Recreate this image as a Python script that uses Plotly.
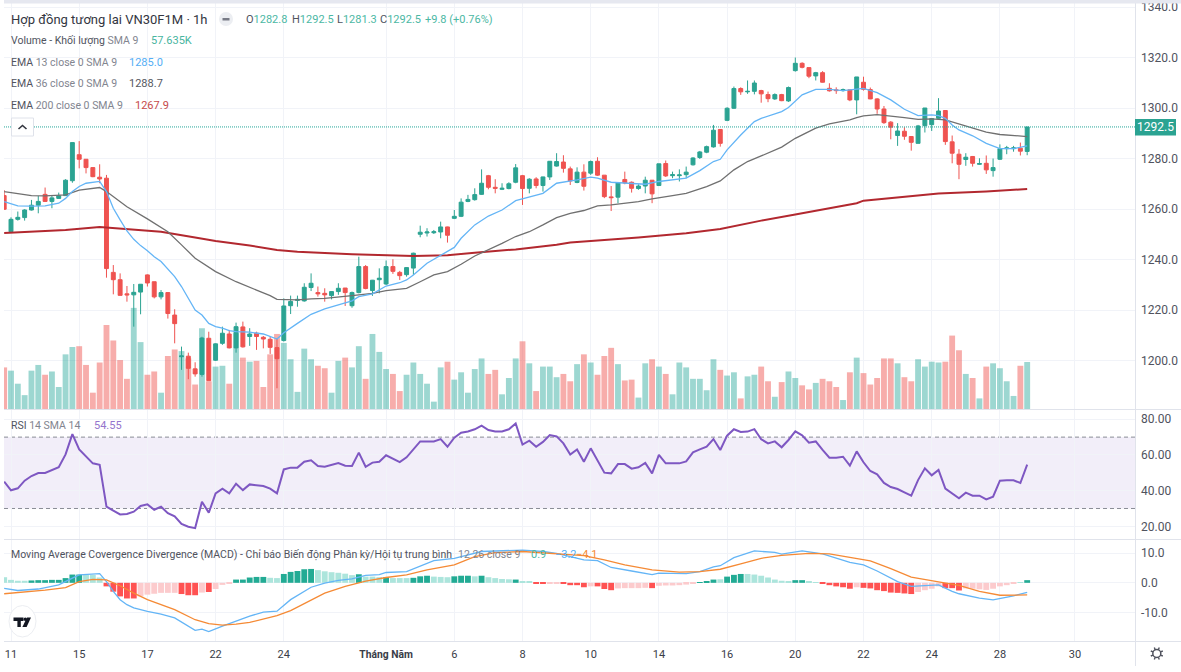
import math
import plotly.graph_objects as go

W, H = 1181, 672
bar_index = list(range(-1, 150))

open_ = [1265.3,
1251.0,1255.9,1256.6,1259.6,1261.5,1265.8,1263.0,1264.2,1265.3,1271.2,
1281.5,1279.7,1276.4,1272.6,1272.2,1234.9,1232.0,1226.4,1226.0,1227.1,
1233.9,1231.2,1225.2,1226.9,1218.0,1201.5,1201.7,1196.7,1194.5,1208.8,
1200.1,1206.8,1210.5,1205.0,1213.3,1209.5,1210.8,1209.2,1208.4,1205.1,
1207.9,1221.7,1223.8,1223.6,1228.9,1226.9,1226.6,1225.7,1227.3,1228.7,
1221.7,1226.9,1237.2,1227.7,1232.0,1230.3,1237.2,1234.9,1234.0,1236.6,
1250.0,1250.5,1250.6,1250.9,1252.9,1256.3,1257.1,1263.0,1263.7,1265.8,
1273.2,1268.6,1267.8,1268.1,1270.6,1273.2,1268.2,1271.9,1269.3,1272.7,
1277.0,1278.6,1275.9,1270.5,1274.6,1274.2,1278.9,1273.4,1264.8,1264.7,
1271.7,1270.6,1268.1,1269.1,1271.4,1269.3,1278.0,1273.2,1273.2,1273.6,
1277.5,1280.4,1282.5,1284.6,1291.5,1295.1,1299.9,1307.7,1306.4,1306.6,
1306.9,1305.3,1303.6,1305.3,1302.8,1314.8,1317.7,1316.0,1312.7,1314.0,
1307.8,1307.2,1306.9,1307.2,1303.2,1310.2,1307.3,1303.6,1299.6,1294.4,
1289.1,1290.8,1288.7,1286.0,1293.0,1293.4,1295.9,1299.0,1286.6,1281.7,
1279.6,1280.8,1277.7,1278.1,1275.2,1279.7,1283.9,1283.9,1284.1,1282.8]

high = [1267.5,
1256.7,1259.0,1259.9,1263.6,1265.2,1268.5,1265.2,1266.5,1271.8,1286.3,
1286.9,1279.7,1276.4,1277.7,1273.5,1237.8,1234.5,1229.5,1230.3,1230.2,
1234.1,1231.2,1227.9,1227.1,1220.3,1205.5,1203.1,1199.3,1209.4,1211.4,
1206.8,1213.4,1212.1,1215.0,1215.4,1212.8,1211.4,1209.7,1209.5,1208.8,
1224.6,1225.7,1225.7,1230.6,1234.5,1229.3,1228.6,1227.5,1230.6,1228.7,
1227.3,1241.1,1237.8,1231.9,1236.5,1239.6,1240.1,1235.5,1236.9,1242.7,
1253.4,1252.4,1251.7,1255.0,1253.0,1259.6,1264.2,1265.6,1268.2,1275.7,
1273.5,1271.8,1270.2,1270.6,1277.8,1273.5,1272.2,1272.6,1272.8,1279.0,
1282.1,1281.3,1276.8,1276.5,1277.7,1279.2,1280.5,1273.4,1269.1,1270.5,
1274.8,1270.9,1269.8,1272.8,1271.5,1277.9,1279.2,1274.8,1275.7,1276.8,
1280.5,1283.0,1285.1,1293.3,1291.6,1300.3,1308.5,1308.2,1310.9,1310.9,
1307.2,1306.5,1305.8,1305.6,1308.5,1320.0,1318.1,1316.0,1314.3,1314.6,
1309.8,1308.2,1307.7,1307.3,1312.3,1312.4,1308.1,1303.9,1300.8,1294.8,
1294.0,1292.4,1288.9,1293.3,1300.0,1295.9,1303.9,1299.2,1289.1,1283.7,
1282.1,1281.0,1280.1,1281.2,1280.0,1285.6,1285.0,1285.0,1286.3,1292.5]

low = [1259.6,
1251.0,1255.4,1255.4,1259.4,1258.3,1262.8,1260.3,1264.1,1265.2,1270.4,
1276.1,1274.1,1272.6,1270.2,1232.8,1226.2,1225.8,1223.3,1213.4,1218.3,
1229.3,1224.6,1224.2,1216.6,1206.8,1196.3,1192.6,1193.6,1193.6,1192.0,
1199.8,1206.2,1204.8,1203.1,1205.1,1205.8,1204.2,1204.8,1202.6,1189.0,
1207.5,1218.4,1221.3,1223.3,1227.5,1225.3,1223.3,1224.2,1226.0,1221.6,
1220.9,1226.6,1228.2,1225.6,1226.6,1229.9,1234.3,1231.9,1233.2,1233.9,
1248.8,1249.1,1250.1,1248.4,1246.7,1256.0,1256.8,1262.7,1263.3,1265.6,
1267.8,1266.2,1267.5,1267.8,1270.2,1261.6,1266.2,1268.2,1266.9,1271.5,
1276.8,1274.4,1269.5,1270.2,1267.3,1273.5,1273.1,1264.3,1259.2,1262.3,
1269.8,1266.5,1267.6,1266.2,1262.3,1269.1,1272.7,1272.2,1270.9,1272.2,
1277.2,1279.8,1282.1,1284.3,1284.7,1294.8,1299.6,1305.2,1305.6,1305.4,
1302.1,1302.3,1303.2,1302.7,1302.4,1314.4,1315.7,1311.8,1310.9,1310.1,
1306.5,1305.6,1306.5,1302.7,1297.5,1306.9,1303.5,1297.7,1293.7,1287.6,
1285.0,1287.4,1283.1,1286.0,1290.3,1290.9,1295.7,1285.4,1278.1,1271.8,
1277.1,1276.8,1277.5,1273.9,1272.8,1279.4,1281.7,1282.7,1281.2,1281.3]

close = [1259.9,
1255.9,1256.7,1259.6,1261.5,1263.0,1263.0,1264.4,1265.2,1271.4,1286.3,
1279.7,1276.4,1272.8,1271.9,1236.4,1232.0,1225.8,1226.0,1227.0,1230.2,
1230.7,1225.2,1226.9,1218.6,1214.6,1201.8,1196.9,1194.7,1208.9,1192.0,
1206.6,1210.8,1205.0,1213.4,1205.4,1210.5,1209.5,1208.5,1205.2,1200.7,
1221.6,1223.4,1224.2,1229.0,1230.6,1226.4,1226.0,1227.3,1228.6,1226.9,
1226.9,1237.2,1228.5,1231.8,1232.6,1237.2,1235.3,1233.6,1236.8,1242.5,
1250.8,1250.9,1251.0,1252.9,1249.6,1257.1,1262.7,1263.8,1265.7,1270.2,
1268.6,1268.2,1268.2,1270.0,1276.3,1268.1,1271.8,1269.3,1272.7,1278.9,
1278.8,1276.1,1271.1,1274.6,1269.0,1278.8,1273.4,1264.9,1264.5,1270.3,
1270.3,1268.2,1269.1,1271.4,1266.0,1277.9,1273.1,1273.6,1273.5,1274.6,
1280.2,1282.6,1284.7,1291.2,1286.0,1299.9,1307.7,1306.4,1306.6,1309.9,
1305.6,1303.7,1305.3,1302.9,1308.1,1317.7,1316.1,1312.6,1314.0,1310.2,
1306.8,1306.9,1307.3,1303.2,1312.3,1307.4,1303.6,1299.6,1294.2,1292.4,
1290.9,1288.8,1286.4,1292.9,1300.0,1295.8,1298.8,1286.7,1282.1,1277.7,
1280.5,1278.1,1278.0,1275.5,1276.4,1283.9,1284.2,1284.2,1282.9,1292.5]

volume_k = [51,
47,31,17,47,54,42,46,27,67,76,
77,54,20,57,103,84,60,37,124,82,
42,46,20,65,73,71,62,30,99,34,
52,53,31,93,63,58,59,27,67,92,
81,61,21,74,61,53,50,20,59,63,
51,77,37,92,70,49,43,22,42,57,
43,31,9,51,58,36,45,20,49,62,
43,48,18,38,62,83,56,22,52,52,
39,43,34,55,67,57,42,65,75,55,
35,36,14,56,61,52,43,18,57,51,
37,37,23,61,48,41,45,13,40,42,
52,34,15,33,46,38,29,24,32,37,
34,27,11,45,63,44,30,38,62,62,
56,39,34,61,52,58,57,58,90,72,
43,38,13,52,56,50,34,16,53,57.6]

ema13_i = [-1,1,3,5,7,8,9,10,11,12,13,14,15,16,17,18,19,20,21,22,23,24,25,26,27,28,29,30,31,32,33,35,37,39,40,42,44,46,48,50,51,53,55,57,58,59,61,63,65,66,68,70,72,74,76,78,80,81,82,83,85,86,88,90,93,95,98,99,101,103,104,105,107,109,110,112,113,114,116,118,120,122,125,127,129,131,133,135,136,137,138,139,141,143,145,147,149]
ema13 = [1262.9,1261.2,1261.1,1261.2,1262.3,1264.2,1266.9,1268.9,1270.2,1270.6,1270.9,1266.9,1260.3,1255.7,1251.3,1248.0,1245.5,1243.5,1241.1,1239.2,1236.3,1233.2,1229.3,1224.6,1220.0,1218.0,1214.7,1213.4,1212.8,1211.8,1211.4,1211.2,1210.5,1208.5,1211.0,1214.7,1218.3,1220.4,1222.0,1223.6,1225.3,1226.4,1229.5,1230.8,1231.9,1233.9,1238.5,1241.8,1244.8,1248.4,1253.7,1257.2,1259.6,1263.3,1264.9,1266.2,1270.2,1270.6,1271.1,1271.5,1272.6,1272.2,1270.6,1270.2,1269.8,1270.9,1271.8,1272.2,1275.2,1278.8,1279.7,1283.4,1289.3,1294.6,1295.9,1297.9,1298.6,1300.2,1305.2,1307.4,1307.4,1306.9,1307.8,1306.1,1303.2,1299.5,1297.0,1297.3,1297.0,1295.9,1293.3,1291.3,1289.0,1286.0,1283.9,1283.9,1285.0]

ema36_i = [-1,3,5,8,10,13,14,17,20,23,25,27,30,33,36,38,39,42,44,46,50,53,55,58,60,62,64,66,68,70,72,74,76,78,80,82,84,86,88,92,94,97,99,102,104,106,108,110,113,115,118,120,123,124,125,127,129,131,133,135,137,139,141,143,145,147,149]
ema36 = [1266.9,1265.3,1265.2,1265.6,1267.5,1268.5,1266.9,1260.9,1256.1,1251.0,1245.8,1240.5,1235.2,1231.2,1227.9,1225.7,1224.2,1224.0,1224.4,1224.6,1225.7,1226.6,1227.7,1228.6,1231.2,1233.9,1235.2,1238.1,1241.4,1243.8,1246.4,1249.1,1251.0,1253.7,1256.6,1258.3,1259.4,1261.2,1261.6,1262.9,1264.0,1265.3,1266.2,1268.9,1271.1,1275.5,1278.8,1281.0,1284.5,1288.0,1292.0,1293.7,1295.3,1296.2,1296.9,1297.4,1296.9,1296.2,1295.5,1295.7,1295.3,1293.6,1292.0,1290.4,1289.5,1289.1,1288.7]

ema200_i = [-1,8,13,14,22,27,30,35,39,42,50,59,64,68,74,80,82,92,99,104,110,115,120,124,125,130,136,143,149]
ema200 = [1250.5,1251.7,1252.9,1252.7,1251.0,1248.7,1247.3,1245.5,1243.8,1243.1,1242.1,1241.4,1241.7,1242.7,1244.0,1245.8,1246.7,1248.7,1250.4,1252.1,1255.4,1257.8,1260.3,1262.3,1263.3,1264.5,1266.1,1266.9,1267.9]

rsi = [45.0,
40.2,41.3,45.6,48.2,49.9,49.9,51.4,53.1,60.3,71.7,
63.1,59.0,55.3,54.5,31.0,28.8,26.7,26.9,28.2,31.4,
32.3,29.3,31.0,27.4,25.6,21.3,19.8,19.0,33.8,27.6,
38.5,41.1,38.5,43.9,40.3,43.5,43.0,42.6,41.1,38.5,
51.9,52.9,52.9,56.2,57.0,53.8,53.4,54.4,55.5,54.0,
53.8,61.3,53.4,55.7,56.2,59.8,57.9,56.0,58.7,63.1,
67.6,67.6,67.6,68.9,64.6,69.7,72.5,73.2,74.4,76.4,
74.0,73.1,73.2,74.4,77.7,65.8,68.0,64.6,67.3,71.2,
70.4,66.5,60.2,63.1,56.2,63.7,57.2,50.1,49.7,54.9,
54.9,52.3,53.1,55.5,49.7,60.0,55.3,55.3,55.3,56.4,
61.5,63.1,64.6,68.9,62.8,70.8,74.4,72.9,73.1,74.5,
68.8,66.5,67.6,64.3,68.4,73.2,71.0,66.9,67.6,62.8,
58.5,58.5,59.0,54.0,62.0,55.9,51.0,49.1,44.3,42.0,
40.9,39.0,37.2,45.9,52.5,48.6,51.6,41.1,38.5,35.7,
38.9,37.2,37.2,35.1,36.6,45.6,45.8,45.8,44.3,54.55]

hist = [1.9,
1.0,0.7,0.7,0.8,0.9,0.9,1.0,1.0,1.6,2.8,
2.8,2.7,2.7,1.8,-1.2,-3.0,-4.6,-5.3,-5.3,-4.6,
-4.0,-3.7,-3.4,-3.4,-3.4,-3.8,-4.2,-4.2,-3.3,-3.1,
-2.1,-0.7,-0.1,1.1,1.1,1.8,2.0,2.0,1.7,1.6,
3.0,3.7,4.0,4.6,4.7,4.3,3.9,3.6,3.4,3.1,
2.6,2.9,2.1,2.1,1.9,1.9,1.6,1.6,1.6,1.7,
2.2,2.4,2.1,2.0,1.9,2.2,2.4,2.4,2.2,2.4,
1.9,1.6,1.3,1.2,1.1,0.6,0.4,-0.2,-0.3,-0.1,
-0.1,-0.4,-0.8,-0.8,-1.5,-1.2,-1.2,-2.1,-2.5,-1.9,
-1.8,-1.8,-1.8,-1.7,-1.8,-1.0,-0.9,-0.9,-0.8,-0.6,
-0.1,0.2,0.6,1.1,1.2,2.1,2.7,3.0,3.0,2.8,
2.4,1.8,1.1,0.7,0.6,0.9,0.9,0.4,0.2,-0.2,
-0.8,-1.2,-1.5,-2.0,-1.5,-1.7,-1.9,-2.5,-2.8,-3.3,
-3.4,-3.6,-3.8,-3.1,-2.5,-2.0,-1.2,-1.8,-1.8,-2.6,
-1.9,-2.0,-2.2,-2.4,-2.0,-1.2,-0.8,-0.3,0.1,0.9]

# D rising above zero, L falling above zero, P rising below zero, R falling below zero
hist_kind = list("L"
"LLLDDDDDDD"
"DLLLRRRRRP"
"PPPPPRRRPR"
"PPPDDDDDLL"
"DDDDDLLLLL"
"LDLLLDLLLD"
"DDLLLDDDLD"
"LLLLDLLRRP"
"PRRRRPRRRP"
"PPPPRPPPPP"
"PDDDLDDDLL"
"LLLLLDDLLR"
"RRRRPRRRRR"
"RRRPPPPRRR"
"PPPPPPPPLD")

macd_i = [-1,1,4,7,9,10,13,14,15,16,17,18,20,22,24,26,27,28,29,31,33,35,37,39,41,43,44,46,48,50,52,54,55,58,60,62,65,69,75,78,80,84,86,88,91,94,95,99,101,103,104,106,109,112,113,116,119,123,125,127,130,132,136,138,139,142,144,147,149]
macd = [-1.9,-2.6,-2.1,-0.7,1.6,2.7,3.1,0.4,-2.9,-5.7,-7.4,-8.5,-9.7,-10.6,-11.9,-14.9,-16.1,-15.7,-16.5,-14.7,-13.0,-11.3,-9.9,-9.6,-5.7,-2.7,-1.5,-0.1,0.8,1.3,2.5,2.8,3.5,3.8,5.7,7.5,8.3,10.6,11.1,10.6,10.0,7.8,7.5,5.2,4.0,2.8,3.3,3.1,3.8,5.4,5.8,8.5,10.8,10.3,9.7,10.8,9.8,6.9,6.1,4.0,0.4,-1.2,-0.7,-2.9,-3.7,-5.2,-5.8,-4.4,-3.2]

signal_i = [-1,1,5,8,10,12,14,16,18,20,24,27,29,31,33,35,39,41,44,46,49,52,55,58,61,65,68,71,75,79,84,87,90,94,98,101,104,107,110,113,117,120,123,126,129,132,136,139,142,145,149]
signal = [-3.7,-3.3,-2.5,-1.6,0.4,1.2,1.0,-1.0,-3.5,-5.7,-9.1,-12.5,-13.8,-14.3,-14.0,-13.4,-11.1,-9.4,-5.7,-3.5,-1.2,0.6,1.8,2.7,4.4,6.1,8.9,10.2,10.6,10.0,9.2,7.8,6.1,4.4,3.6,3.8,4.6,6.4,8.3,9.3,10.0,9.8,8.5,7.4,4.8,1.9,0.3,-0.9,-2.9,-4.2,-4.1]

price_ticks = [1200, 1220, 1240, 1260, 1280, 1300, 1320, 1340]
rsi_ticks = [20, 40, 60, 80]
macd_ticks = [-10, 0, 10]
time_tick_i = [0, 10, 20, 30, 40, 55, 65, 75, 85, 95, 105, 115, 125, 135, 145, 156]
time_tick_text = ["11", "15", "17", "22", "24", '<b style="font-size:10.3px">Tháng Năm</b>', "6", "8", "10", "14", "16", "20", "22", "24", "28", "30"]

assert len(bar_index) == len(open_) == len(high) == len(low) == len(close) == len(volume_k) == len(rsi) == len(hist) == len(hist_kind)
assert len(ema13_i) == len(ema13) and len(ema36_i) == len(ema36) and len(ema200_i) == len(ema200)
assert len(macd_i) == len(macd) and len(signal_i) == len(signal)

UP, DOWN = "#2ba392", "#ef5350"
GRID = "#f1f3f8"
AXIS_TEXT = "#50535e"
FONT = "Roboto"
AXIS_FONT = "Liberation Sans Narrow, Roboto"

def px(x): return x / W
def py(y): return 1 - y / H

xr = [(4 - 11) / 6.82, (1135 - 11) / 6.82]
fig = go.Figure()

vol_col = ["rgba(38,166,154,0.45)" if c >= o else "rgba(239,83,80,0.48)" for o, c in zip(open_, close)]
fig.add_trace(go.Bar(x=bar_index, y=volume_k, marker=dict(color=vol_col, line_width=0), xaxis="x", yaxis="y"))
fig.add_trace(go.Candlestick(
    x=bar_index, open=open_, high=high, low=low, close=close, xaxis="x", yaxis="y2", whiskerwidth=0,
    increasing=dict(line=dict(color=UP, width=1), fillcolor=UP),
    decreasing=dict(line=dict(color=DOWN, width=1), fillcolor=DOWN)))
fig.add_trace(go.Scatter(x=ema200_i, y=ema200, mode="lines", line=dict(color="#b2282f", width=2), xaxis="x", yaxis="y2"))
fig.add_trace(go.Scatter(x=ema36_i, y=ema36, mode="lines", line=dict(color="#707070", width=1.3), xaxis="x", yaxis="y2"))
fig.add_trace(go.Scatter(x=ema13_i, y=ema13, mode="lines", line=dict(color="#64b5f6", width=1.3), xaxis="x", yaxis="y2"))

fig.add_trace(go.Scatter(x=bar_index, y=rsi, mode="lines", line=dict(color="#7e57c2", width=2), xaxis="x2", yaxis="y3"))

kind_col = {"D": "#22ab94", "L": "#ace5dc", "P": "#fccbcd", "R": "#ff5252"}
fig.add_trace(go.Bar(x=bar_index, y=hist, marker=dict(color=[kind_col[k] for k in hist_kind], line_width=0), xaxis="x3", yaxis="y4"))
fig.add_trace(go.Scatter(x=macd_i, y=macd, mode="lines", line=dict(color="#64b5f6", width=1.3), xaxis="x3", yaxis="y4"))
fig.add_trace(go.Scatter(x=signal_i, y=signal, mode="lines", line=dict(color="#f58a35", width=1.3), xaxis="x3", yaxis="y4"))

xcommon = dict(range=xr, tickmode="array", tickvals=time_tick_i, showgrid=True, gridcolor=GRID, gridwidth=1, zeroline=False,
               showline=False, ticks="", domain=[px(4), px(1135)], rangeslider=dict(visible=False))
ycommon = dict(side="right", showgrid=True, gridcolor=GRID, gridwidth=1, zeroline=False, showline=False, ticks="",
               ticklabelstandoff=5, tickfont=dict(family=AXIS_FONT, size=12, color=AXIS_TEXT))

main_dom = [py(409), py(3)]
price_range = [1200 + (360.5 - 409) / 2.525, 1200 + (360.5 - 3) / 2.525]
fig.update_layout(
    width=W, height=H, margin=dict(l=0, r=0, t=0, b=0, autoexpand=False), autosize=False,
    paper_bgcolor="white", plot_bgcolor="white", showlegend=False,
    bargap=0.14, boxgap=0.18, hovermode=False,
    font=dict(family=FONT),
    xaxis=dict(**xcommon, showticklabels=False, anchor="y"),
    xaxis2=dict(**xcommon, showticklabels=False, anchor="y3", matches="x"),
    xaxis3=dict(**xcommon, showticklabels=True, ticktext=time_tick_text, anchor="y4", matches="x", ticklabelstandoff=5,
                tickfont=dict(family=FONT, size=11, color="#3a3d48")),
    yaxis=dict(domain=main_dom, range=[0, 406 * 1.226], visible=False, showgrid=False, anchor="x"),
    yaxis2=dict(**ycommon, domain=main_dom, range=price_range, overlaying="y", anchor="x", tickmode="array",
                tickvals=price_ticks, ticktext=[f"{v:.1f}" for v in price_ticks]),
    yaxis3=dict(**ycommon, domain=[py(539), py(410)], range=[12.9, 85.2], anchor="x2", tickmode="array",
                tickvals=rsi_ticks, ticktext=[f"{v:.2f}" for v in rsi_ticks]),
    yaxis4=dict(**ycommon, domain=[py(641), py(540)], range=[-19.7, 14.5], anchor="x3", tickmode="array",
                tickvals=macd_ticks, ticktext=[f"{v:.1f}" for v in macd_ticks]),
)

shapes = []
def line_px(x0, y0, x1, y1, color="#e0e3eb", width=1):
    shapes.append(dict(type="line", xref="paper", yref="paper", x0=px(x0), x1=px(x1), y0=py(y0), y1=py(y1),
                       line=dict(color=color, width=width), layer="above"))
def rect_px(x0, y0, x1, y1, fill, line=None):
    shapes.append(dict(type="rect", xref="paper", yref="paper", x0=px(x0), x1=px(x1), y0=py(y1), y1=py(y0),
                       fillcolor=fill, line=line or dict(width=0), layer="above"))
def circle_px(x0, y0, x1, y1, fill, line=None):
    shapes.append(dict(type="circle", xref="paper", yref="paper", x0=px(x0), x1=px(x1), y0=py(y1), y1=py(y0),
                       fillcolor=fill, line=line or dict(width=0), layer="above"))
def path_px(points, fill=None, line=None, close_it=True):
    d = "M " + " L ".join(f"{px(a):.5f} {py(b):.5f}" for a, b in points) + (" Z" if close_it else "")
    s = dict(type="path", xref="paper", yref="paper", path=d, line=line or dict(width=0), layer="above")
    if fill: s["fillcolor"] = fill
    shapes.append(s)

# frame
line_px(4, 409.5, 1135, 409.5)
line_px(4, 539.5, 1181, 539.5)
line_px(4, 641.5, 1181, 641.5)
line_px(1135.5, 0, 1135.5, 666)
line_px(1135, 409.5, 1181, 409.5)
rect_px(4, 0, 1181, 3.5, "#e6e8f0")
# RSI band
shapes.append(dict(type="rect", xref="x2", yref="y3", x0=xr[0], x1=xr[1], y0=30, y1=70,
                   fillcolor="rgba(126,87,194,0.10)", line_width=0, layer="below"))
for lvl in (30, 70):
    shapes.append(dict(type="line", xref="x2", yref="y3", x0=xr[0], x1=xr[1], y0=lvl, y1=lvl,
                       line=dict(color="#8a8d96", width=1, dash="4px,3px"), layer="below"))
# last price line and tag
shapes.append(dict(type="line", xref="x", yref="y2", x0=xr[0], x1=xr[1], y0=close[-1], y1=close[-1],
                   line=dict(color="#26a69a", width=1, dash="1px,1px"), layer="above"))
rect_px(1135, 119, 1176, 135.5, UP)
# collapse button in title row
circle_px(219, 12, 233, 26, "#eceef2")
rect_px(222.5, 18, 229.5, 20.5, "#787b86")
# legend collapse button
rect_px(11.5, 118, 33.5, 136, "white", dict(color="#dfe2ea", width=1))
path_px([(18.5, 129), (22.5, 125.5), (26.5, 129)], line=dict(color="#33363f", width=1.6), close_it=False)
# logo badge
circle_px(9, 605.5, 36, 637, "white", dict(color="#eceef2", width=1))
path_px([(13.5, 617.5), (23.5, 617.5), (23.5, 621), (20.8, 621), (20.8, 627), (17.4, 627), (17.4, 621), (13.5, 621)], fill="#131722")
path_px([(27, 617.5), (31, 617.5), (26.6, 627), (22.4, 627)], fill="#131722")
circle_px(23.6, 617.5, 27, 621, "#131722")
# settings gear
gx, gy = 1156.8, 653.5
circle_px(gx - 4, gy - 4, gx + 4, gy + 4, "white", dict(color="#50535e", width=1.5))
for k in range(8):
    a = k * math.pi / 4 + math.pi / 8
    line_px(gx + 4 * math.cos(a), gy + 4 * math.sin(a), gx + 6.5 * math.cos(a), gy + 6.5 * math.sin(a), color="#50535e", width=1.4)
fig.update_layout(shapes=shapes)

NAME, PARAM = "#50535e", "#82858f"
def text(x, y, s, size=10.5, color=NAME, anchor="left"):
    fig.add_annotation(xref="paper", yref="paper", x=px(x - (2 if anchor == "left" else 0)), y=py(y), text=s, showarrow=False,
                       xanchor=anchor, yanchor="middle", font=dict(family=FONT, size=size, color=color), align="left")
def sp(s, c): return f'<span style="color:{c}">{s}</span>'

G = "#4cb8a4"
text(11, 19, "Hợp đồng tương lai VN30F1M · 1h", size=13, color="#33363f")
text(246, 19, "O" + sp("1282.8", G), size=11)
text(292, 19, "H" + sp("1292.5", G), size=11)
text(337, 19, "L" + sp("1281.3", G), size=11)
text(380, 19, "C" + sp("1292.5", G), size=11)
text(425, 19, "+9.8 (+0.76%)", size=11, color=G)
text(11, 40, "Volume - Khối lượng " + sp("SMA 9", PARAM))
text(151, 40, "57.635K", size=11, color="#48b5a0")
text(11, 62, "EMA " + sp("13 close 0 SMA 9", PARAM))
text(129, 62, "1285.0", color="#54aef5", size=11)
text(11, 83, "EMA " + sp("36 close 0 SMA 9", PARAM))
text(129, 83, "1288.7", color="#55585f", size=11)
text(11, 105, "EMA " + sp("200 close 0 SMA 9", PARAM))
text(135, 105, "1267.9", color="#c64a4a", size=11)
text(11, 425, "RSI " + sp("14 SMA 14", PARAM))
text(94, 425, "54.55", color="#9575cd", size=11)
text(11, 554, "Moving Average Covergence Divergence (MACD) - Chỉ báo Biến động Phân kỳ/Hội tụ trung bình")
text(458, 554, "12 26 close 9", color=PARAM)
text(531, 554, "0.9", color="#4cb8a4", size=11)
text(555, 554, "−3.2", color="#54aef5", size=11)
text(576, 554, "−4.1", color="#f58a35", size=11)
fig.add_annotation(xref="paper", yref="paper", x=px(1155.5), y=py(126.5), text="1292.5", showarrow=False, xanchor="center", yanchor="middle",
                   font=dict(family=AXIS_FONT, size=12, color="white"))

fig.write_html("out.html", config=dict(displayModeBar=False),
               post_script="document.body.style.margin='0';document.documentElement.style.overflow='hidden';")
